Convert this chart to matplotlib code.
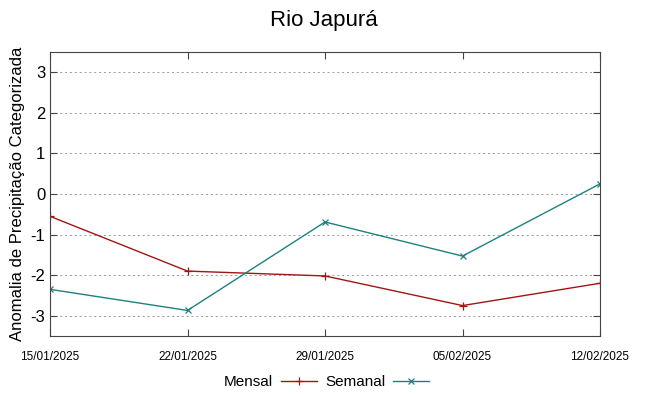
import matplotlib
matplotlib.use('Agg')
import matplotlib.pyplot as plt
import numpy as np

plt.rcParams['font.family'] = ['Liberation Sans', 'DejaVu Sans']

dates = np.array(['2025-01-15', '2025-01-22', '2025-01-29', '2025-02-05', '2025-02-12'], dtype='datetime64[D]')
date_labels = ['15/01/2025', '22/01/2025', '29/01/2025', '05/02/2025', '12/02/2025']
mensal = [-0.55, -1.9, -2.02, -2.75, -2.2]
semanal = [-2.35, -2.87, -0.69, -1.53, 0.25]

fig = plt.figure(figsize=(6.48, 3.96), dpi=100)
ax = fig.add_axes([50/648, 1 - 336/396, 550/648, 284/396])

ax.plot(dates, mensal, color='#a31515', lw=1.0, marker='+', ms=6, mew=0.9, label='Mensal')
ax.plot(dates, semanal, color='#1f8080', lw=1.0, marker='x', ms=5, mew=0.9, label='Semanal')

ax.set_xlim(dates[0], dates[-1])
ax.set_ylim(-3.5, 3.5)
ax.set_xticks(dates)
ax.set_xticklabels(date_labels, fontsize=8.5)
ax.set_yticks([-3, -2, -1, 0, 1, 2, 3])
ax.set_yticklabels(['-3', '-2', '-1', '0', '1', '2', '3'], fontsize=12)
ax.tick_params(direction='in', length=5, top=True, right=True, color='#444444')
ax.tick_params(axis='x', pad=11)
ax.yaxis.grid(True, linestyle=(0, (2, 3)), color='#999999', lw=0.7)
for s in ax.spines.values():
    s.set_color('#444444')

ax.set_ylabel('Anomalia de Precipitação Categorizada', fontsize=12, labelpad=4)
fig.suptitle('Rio Japurá', fontsize=16, y=0.975)

ax.legend(loc='center', bbox_to_anchor=(0.503, -0.162), ncol=2, frameon=False,
          markerfirst=False, fontsize=11, handlelength=2.4, columnspacing=0.5,
          handletextpad=0.5)

fig.savefig('out.png', dpi=100)
